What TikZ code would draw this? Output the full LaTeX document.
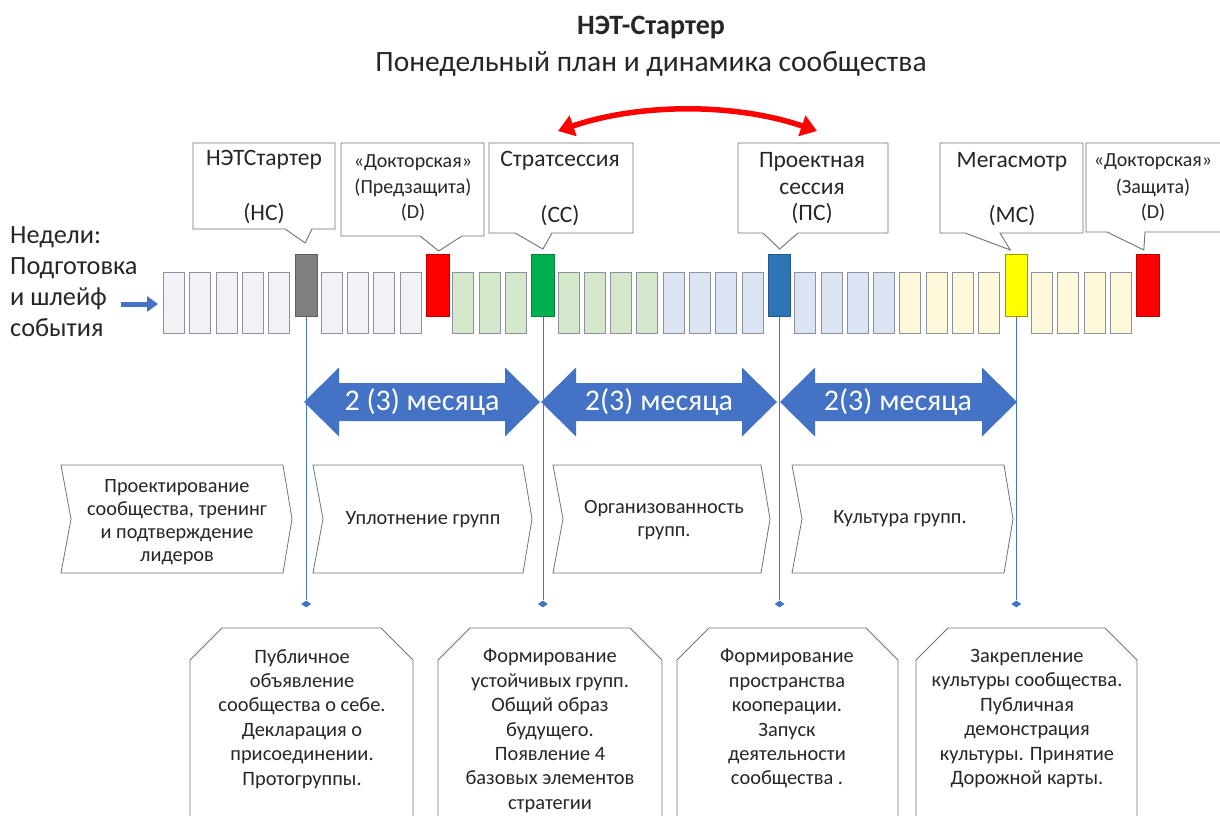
\documentclass[tikz,border=0pt]{standalone}
\usepackage{fontspec}
\setmainfont{Carlito}
\usetikzlibrary{arrows.meta,calc,shapes.geometric}
\definecolor{boxline}{RGB}{140,145,155}
\definecolor{grayfill}{RGB}{240,242,245}
\definecolor{greenfill}{RGB}{214,232,204}
\definecolor{bluefill}{RGB}{218,228,242}
\definecolor{yellowfill}{RGB}{254,249,218}
\definecolor{dgray}{RGB}{127,127,127}
\definecolor{mred}{RGB}{255,0,0}
\definecolor{mgreen}{RGB}{0,176,80}
\definecolor{mblue}{RGB}{46,117,182}
\definecolor{myellow}{RGB}{255,255,0}
\definecolor{abl}{RGB}{68,114,196}
\definecolor{txt}{RGB}{38,38,38}
\definecolor{cline}{RGB}{110,115,125}
\begin{document}
\begin{tikzpicture}[x=1pt,y=-1pt,
  wk/.style={draw=boxline, line width=0.9pt, minimum width=21pt, minimum height=61pt, inner sep=0pt, anchor=north west},
  wkg/.style={wk, fill=grayfill},
  wkgr/.style={wk, fill=greenfill},
  wkbl/.style={wk, fill=bluefill},
  wkye/.style={wk, fill=yellowfill},
  tallbox/.style={line width=0.9pt, minimum width=22.5pt, minimum height=62pt, inner sep=0pt, anchor=north west},
  callout/.style={draw=cline, line width=0.9pt, fill=white},
  cbig/.style={text=txt, font=\fontsize{23.5}{27}\selectfont, inner sep=0pt},
  csmall/.style={text=txt, font=\fontsize{20}{23}\selectfont, inner sep=0pt},
  vline/.style={draw=abl, line width=0.8pt},
  diam/.style={diamond, fill=abl, inner sep=0pt, minimum width=10pt, minimum height=7pt},
  bigarrow/.style={fill=abl},
  mtext/.style={text=white, font=\fontsize{30}{33}\selectfont, inner sep=0pt},
  chev/.style={draw=cline, line width=0.8pt, fill=white},
  chtext/.style={text=txt, font=\fontsize{20.3}{23}\selectfont, align=center, inner sep=0pt},
  btext/.style={text=txt, font=\fontsize{20.4}{24.4}\selectfont, align=center, inner sep=0pt, anchor=north},
  bbox/.style={draw=cline, line width=0.8pt, fill=white}
]
\useasboundingbox (0,0) rectangle (1220,816);
\fill[white] (0,0) rectangle (1220,816);

% title
\node[text=txt, font=\bfseries\fontsize{28}{32}\selectfont, inner sep=0pt] (title) at (651,28) {НЭТ-Стартер};
\node[text=txt, font=\fontsize{29.5}{34}\selectfont, inner sep=0pt] (subtitle) at (651,64) {Понедельный план и динамика сообщества};

% red curved double arrow
\coordinate (ra) at (558,131);
\coordinate (rb) at (817,131);
\draw[mred, line width=5.5pt, {Triangle[length=16pt,width=21pt]}-{Triangle[length=16pt,width=21pt]}] (ra) .. controls (640,103) and (735,103) .. (rb);

% left text
\node[text=txt, font=\fontsize{26.3}{31}\selectfont, align=left, anchor=north west, inner sep=0pt] (weeks) at (10,226) {Недели:\\Подготовка\\и шлейф\\события};
\coordinate (la) at (121,304);

% week boxes
\foreach \i/\s in {0/wkg,1/wkg,2/wkg,3/wkg,4/wkg,6/wkg,7/wkg,8/wkg,9/wkg,
  11/wkgr,12/wkgr,13/wkgr,15/wkgr,16/wkgr,17/wkgr,18/wkgr,
  19/wkbl,20/wkbl,21/wkbl,22/wkbl,24/wkbl,25/wkbl,26/wkbl,27/wkbl,
  28/wkye,29/wkye,30/wkye,31/wkye,33/wkye,34/wkye,35/wkye,36/wkye}
  \node[\s] (w\i) at ({163+26.3*\i},272) {};
\node[tallbox, fill=dgray, draw=dgray!75!black] (w5) at ({163+26.3*5},254) {};
\node[tallbox, fill=mred, draw=mred!75!black] (w10) at ({163+26.3*10},254) {};
\node[tallbox, fill=mgreen, draw=mgreen!75!black] (w14) at ({163+26.3*14},254) {};
\node[tallbox, fill=mblue, draw=mblue!75!black] (w23) at ({163+26.3*23},254) {};
\node[tallbox, fill=myellow, draw=myellow!60!black] (w32) at ({163+26.3*32},254) {};
\node[tallbox, fill=mred, draw=mred!75!black] (w37) at ({163+26.3*37},254) {};

\draw[abl, line width=5pt, -{Triangle[length=11pt,width=15pt]}, shorten >=5pt] (la) -- (w0.west |- la);

% callouts
\draw[callout] (193,143) -- (335,143) -- (335,229) -- (312,229) -- ($(w5.north)+(-1,-11)$) -- (285,229) -- (193,229) -- cycle;
\draw[callout] (341,143) -- (484,143) -- (484,236) -- (462,236) -- ($(w10.north)+(1,-3)$) -- (420,236) -- (341,236) -- cycle;
\draw[callout] (489,143) -- (633,143) -- (633,233) -- (552,233) -- ($(w14.north)+(0,-5)$) -- (515,233) -- (489,233) -- cycle;
\draw[callout] (738,143) -- (888,143) -- (888,233) -- (798,233) -- ($(w23.north)+(0,-5)$) -- (763,233) -- (738,233) -- cycle;
\draw[callout] (940,143) -- (1083,143) -- (1083,233) -- (1000,233) -- ($(w32.north)+(-6,-4)$) -- (965,233) -- (940,233) -- cycle;
\draw[callout] (1086,143) -- (1232,143) -- (1232,232) -- (1145,232) -- ($(w37.north)+(-4,-4)$) -- (1107,232) -- (1086,232) -- cycle;

\node[cbig] (c1a) at (264,160) {НЭТСтартер};
\node[cbig] (c1b) at (264,214) {(НС)};
\node[csmall] (c2a) at (413,163) {«Докторская»};
\node[csmall] (c2b) at (413,188) {(Предзащита)};
\node[csmall] (c2c) at (413,213) {(D)};
\node[cbig] (c3a) at (560,161) {Стратсессия};
\node[cbig] (c3b) at (560,216) {(СС)};
\node[cbig] (c4a) at (812,162) {Проектная};
\node[cbig] (c4b) at (812,189) {сессия};
\node[cbig] (c4c) at (812,214) {(ПС)};
\node[cbig] (c5a) at (1012,162) {Мегасмотр};
\node[cbig] (c5b) at (1012,216) {(МС)};
\node[csmall] (c6a) at (1153,162) {«Докторская»};
\node[csmall] (c6b) at (1153,188) {(Защита)};
\node[csmall] (c6c) at (1153,213) {(D)};

% vertical lines and diamonds
\node[diam] (d1) at (w5.south |- 0,604) {};
\node[diam] (d2) at (w14.south |- 0,604) {};
\node[diam] (d3) at (w23.south |- 0,604) {};
\node[diam] (d4) at (w32.south |- 0,604) {};
\draw[vline] (w5.south) -- (d1.north);
\draw[vline] (w14.south) -- (d2.north);
\draw[vline] (w23.south) -- (d3.north);
\draw[vline] (w32.south) -- (d4.north);

% chevrons
\foreach \L/\R in {61/292, 313/532, 553/770, 792/1013}
  \draw[chev] (\L,465) -- ({\R-9},465) -- (\R,519) -- ({\R-9},573) -- (\L,573) -- ({\L+10},519) -- cycle;
\node[chtext] (h1) at (177,522) {Проектирование\\сообщества, тренинг\\и подтверждение\\лидеров};
\node[chtext] (h2) at (423,520) {Уплотнение групп};
\node[chtext] (h3) at (664,520) {Организованность\\групп.};
\node[chtext] (h4) at (900,519) {Культура групп.};

% month arrows
\foreach \L/\R/\n in {304/540/m1, 541/777/m2, 780/1017/m3}
  \fill[bigarrow] (\L,402) -- ({\L+35},367.5) -- ({\L+35},383) -- ({\R-35},383) -- ({\R-35},367.5) -- (\R,402) -- ({\R-35},436.5) -- ({\R-35},421) -- ({\L+35},421) -- ({\L+35},436.5) -- cycle;
\node[mtext] (m1) at (422,402) {2 (3) месяца};
\node[mtext] (m2) at (659,402) {2(3) месяца};
\node[mtext] (m3) at (898,402) {2(3) месяца};

% bottom boxes
\foreach \L/\R in {190/413, 438/662, 677/898, 916/1137}
  \draw[bbox] (\L,830) -- (\L,660) -- ({\L+32},628) -- ({\R-32},628) -- (\R,660) -- (\R,830);
\node[btext] (b1) at (302,649) {Публичное\\объявление\\сообщества о себе.\\Декларация о\\присоединении.\\Протогруппы.};
\node[btext] (b2) at (550,649) {Формирование\\устойчивых групп.\\Общий образ\\будущего.\\Появление 4\\базовых элементов\\стратегии};
\node[btext] (b3) at (787,649) {Формирование\\пространства\\кооперации.\\Запуск\\деятельности\\сообщества .};
\node[btext] (b4) at (1027,649) {Закрепление\\культуры сообщества.\\Публичная\\демонстрация\\культуры. Принятие\\Дорожной карты.};
\end{tikzpicture}
\end{document}
